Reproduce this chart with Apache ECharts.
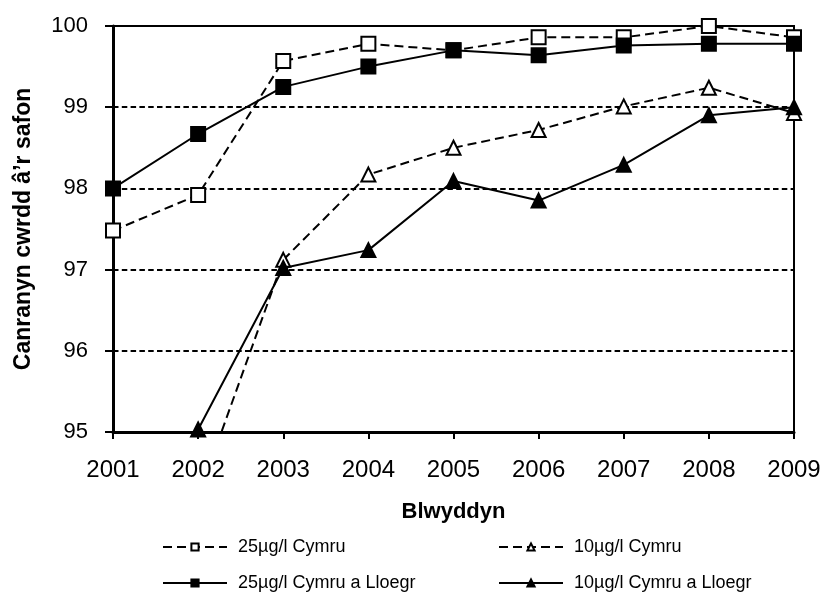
<!DOCTYPE html>
<html><head><meta charset="utf-8">
<script src="https://cdn.jsdelivr.net/npm/echarts@6/dist/echarts.min.js"></script>
<style>html,body{margin:0;padding:0;background:#fff}#c{width:820px;height:595px}</style>
</head><body><div id="c"></div>
<script>
const years = ['2001','2002','2003','2004','2005','2006','2007','2008','2009'];
const cymru25 = [97.48, 97.92, 99.57, 99.78, 99.70, 99.86, 99.86, 100.0, 99.86];
const cymru10 = [null, 94.2, 97.12, 98.17, 98.50, 98.72, 99.01, 99.24, 98.93];
const cymruLloegr25 = [98.0, 98.67, 99.25, 99.50, 99.70, 99.64, 99.76, 99.78, 99.78];
const cymruLloegr10 = [null, 95.03, 97.02, 97.24, 98.09, 97.85, 98.29, 98.90, 99.0];
const names = ['25µg/l Cymru','10µg/l Cymru','25µg/l Cymru a Lloegr','10µg/l Cymru a Lloegr'];

const font = 'Liberation Sans, Arial, sans-serif';
function ser(name, data, symbol, filled, dashed) {
  return {
    name, type: 'line', data, symbol, symbolSize: 14,
    clip: true, connectNulls: false,
    lineStyle: { color: '#000', width: 2, type: dashed ? [9, 5] : 'solid' },
    itemStyle: { color: filled ? '#000' : '#fff', borderColor: '#000', borderWidth: 2 },
    emphasis: { disabled: true }, animation: false
  };
}
function leg(name, left, top) {
  return { data: [name], left, top, itemWidth: 64, itemHeight: 9,
    textStyle: { fontFamily: font, fontSize: 18, color: '#000', padding: [0, 0, 0, 6] }, selectedMode: false };
}
const chart = echarts.init(document.getElementById('c'));
chart.setOption({
  backgroundColor: '#fff',
  animation: false,
  grid: { left: 113, right: 26, top: 26, bottom: 163, outerBoundsMode: 'none', containLabel: false,
    show: true, borderColor: '#000', borderWidth: 2, backgroundColor: 'transparent' },
  xAxis: {
    type: 'category', data: years, boundaryGap: false,
    name: 'Blwyddyn', nameLocation: 'middle', nameGap: 69,
    nameTextStyle: { fontFamily: font, fontSize: 22, fontWeight: 'bold', color: '#000' },
    axisLine: { lineStyle: { color: '#000', width: 3 } },
    axisTick: { show: true, inside: false, length: 7, alignWithLabel: true, lineStyle: { color: '#000', width: 2 } },
    axisLabel: { fontFamily: font, fontSize: 24, color: '#000', margin: 26, showMaxLabel: true, showMinLabel: true },
    splitLine: { show: false }
  },
  yAxis: {
    type: 'value', min: 95, max: 100, interval: 1,
    name: 'Canranyn cwrdd â\u2019r safon', nameLocation: 'middle', nameGap: 78,
    nameTextStyle: { fontFamily: font, fontSize: 23, fontWeight: 'bold', color: '#000' },
    axisLine: { show: true, lineStyle: { color: '#000', width: 3 } },
    axisTick: { show: true, length: 8, lineStyle: { color: '#000', width: 2 } },
    axisLabel: { fontFamily: font, fontSize: 22, color: '#000', margin: 25 },
    splitLine: { show: true, lineStyle: { color: '#000', width: 2, type: [5.5, 3.3] } }
  },
  legend: [
    leg(names[0], 157, 533),
    leg(names[1], 493, 533),
    leg(names[2], 157, 569),
    leg(names[3], 493, 569)
  ],
  series: [
    ser(names[0], cymru25, 'rect', false, true),
    ser(names[1], cymru10, 'triangle', false, true),
    ser(names[2], cymruLloegr25, 'rect', true, false),
    ser(names[3], cymruLloegr10, 'triangle', true, false)
  ]
});
</script></body></html>
